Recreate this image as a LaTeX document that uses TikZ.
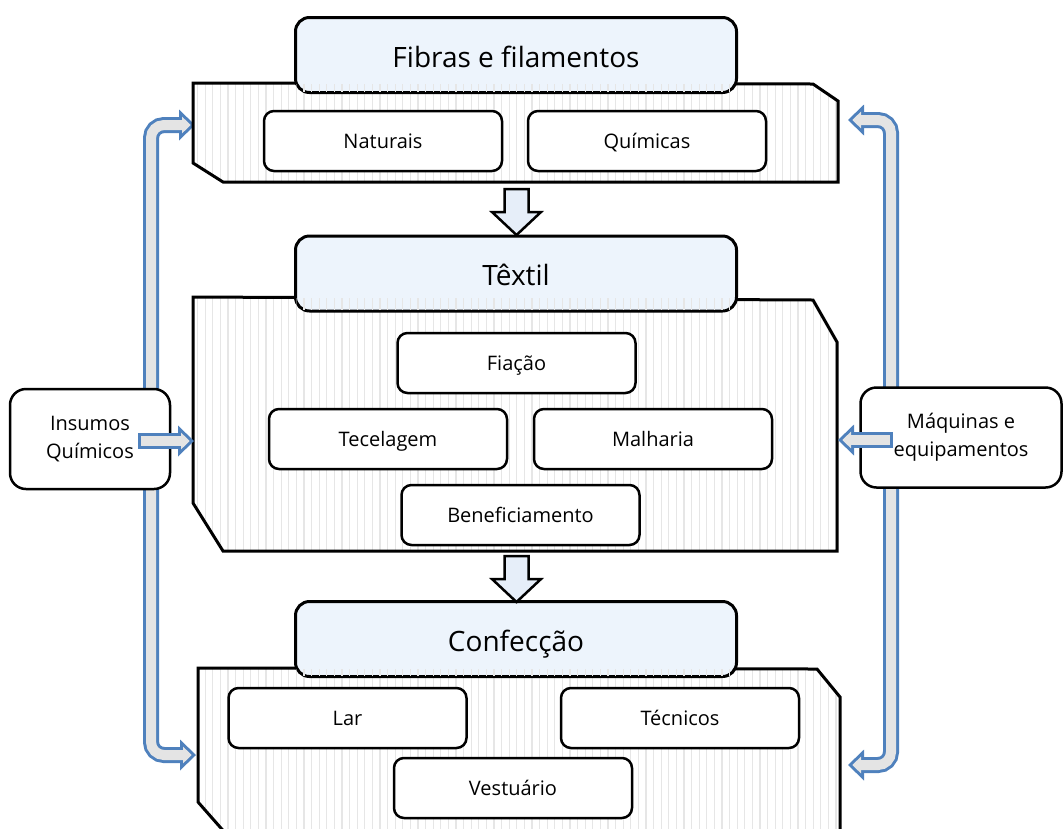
\documentclass[tikz,border=0pt]{standalone}
\usepackage{fontspec}
\setmainfont{Open Sans}
\usepackage{tikz}
\usetikzlibrary{arrows.meta,patterns.meta,backgrounds}
\definecolor{headblue}{HTML}{EDF4FC}
\definecolor{dropblue}{HTML}{E6EEF9}
\definecolor{tubeblue}{HTML}{4F81BD}
\definecolor{tubegray}{HTML}{E4E4E4}
\definecolor{stripe}{HTML}{E6E6E6}

\begin{document}
\begin{tikzpicture}[
  x=1pt,y=-1pt,
  stage/.style={draw,line width=3pt,rounded corners=14pt,fill=headblue,
                minimum width=441pt,minimum height=75pt,
                text height=24pt,text depth=0pt,
                font=\fontsize{28}{32}\selectfont},
  item/.style={draw,line width=2.5pt,rounded corners=10pt,fill=white,
               minimum width=238pt,minimum height=60pt,
               text height=16pt,text depth=1pt,
               font=\fontsize{20}{24}\selectfont},
  side/.style={draw,line width=2.5pt,rounded corners=16pt,fill=white,
               align=center,minimum height=100pt,inner sep=0pt,
               font=\fontsize{20}{28}\selectfont},
  stripes/.style={pattern={Lines[angle=90,distance=7.6pt,line width=1.1pt]},
                  pattern color=stripe},
  tray/.style={draw,line width=3pt,preaction={fill=white},stripes},
  tube/.style={line width=16pt,draw=tubeblue,rounded corners=13pt,
               -{Triangle[length=16pt,width=31pt,line width=0pt]}},
  tubecore/.style={line width=10pt,draw=tubegray,rounded corners=13pt,
                   shorten >=4.3pt,
                   -{Triangle[length=8.7pt,width=16.8pt,line width=0pt]}},
  drop/.style={line width=2.5pt,fill=dropblue,line join=miter},
  pics/dropdown/.style={code={
    \draw[drop] (-12,0) -- (12,0) -- (12,23) -- (24.5,23) -- (0,46)
      -- (-24.5,23) -- (-12,23) -- cycle;}}
]
  \clip (0,0) rectangle (1064,828);

  % trays behind the stage headers
  \draw[tray] (193,83) -- (813,84) -- (838,101) -- (838,182) -- (223,182)
    -- (193,163) -- cycle;
  \draw[tray] (193,297) -- (813,300) -- (837,342) -- (837,551) -- (223,551)
    -- (193,503) -- cycle;
  \draw[tray] (198,668) -- (817,669) -- (840,697) -- (840,860) -- (249,860)
    -- (198,802) -- cycle;

  \node[stage] (fibras) at (516,55) {Fibras e filamentos};
  \node[stage] (textil) at (516,273.5) {Têxtil};
  \node[stage] (confec) at (516,639) {Confecção};
  \fill[stripes] (296.5,84.5) rectangle (735.5,91.5);
  \fill[stripes] (296.5,298) rectangle (735.5,309.5);
  \fill[stripes] (296.5,669.5) rectangle (735.5,675.5);

  \node[item] (naturais) at (383,141) {Naturais};
  \node[item] (quimicas) at (647,141) {Químicas};
  \node[item] (fiacao) at (516.5,363) {Fiação};
  \node[item] (tecel) at (388,439) {Tecelagem};
  \node[item] (malha) at (653,439) {Malharia};
  \node[item] (benef) at (520.5,515) {Beneficiamento};
  \node[item] (lar) at (347.5,718) {Lar};
  \node[item] (tecnicos) at (680,718) {Técnicos};
  \node[item] (vest) at (513,788) {Vestuário};

  \pic at (516.5,189) {dropdown};
  \pic at (516.5,556) {dropdown};

  \node[side,minimum width=160pt] (ins) at (90,439) {Insumos\\Químicos};
  \node[side,minimum width=201pt] (maq) at (961,437.5) {Máquinas e\\equipamentos};

  \coordinate (tubeL) at (151,0);
  \coordinate (tubeR) at (891,0);
  \coordinate (fibL) at (195,125);
  \coordinate (confL) at (196,755);
  \coordinate (fibR) at (848,120);
  \coordinate (confR) at (848,765);
  \begin{scope}[on background layer]
    \foreach \src/\pos/\aim in {ins/tubeL/fibL,ins/tubeL/confL,
                                maq/tubeR/fibR,maq/tubeR/confR}{
      \draw[tube] (\pos |- \src.center) -- (\pos |- \aim) -- (\aim);
      \draw[tubecore] (\pos |- \src.center) -- (\pos |- \aim) -- (\aim);
    }
  \end{scope}

  \coordinate (insout) at (138,441);
  \coordinate (texL) at (194,441);
  \coordinate (maqout) at (893,440);
  \coordinate (texR) at (838,440);
  \draw[tube] (insout) -- (texL);
  \draw[tubecore,shorten <=3pt] (insout) -- (texL);
  \draw[tube] (maqout) -- (texR);
  \draw[tubecore,shorten <=3pt] (maqout) -- (texR);
\end{tikzpicture}
\end{document}
